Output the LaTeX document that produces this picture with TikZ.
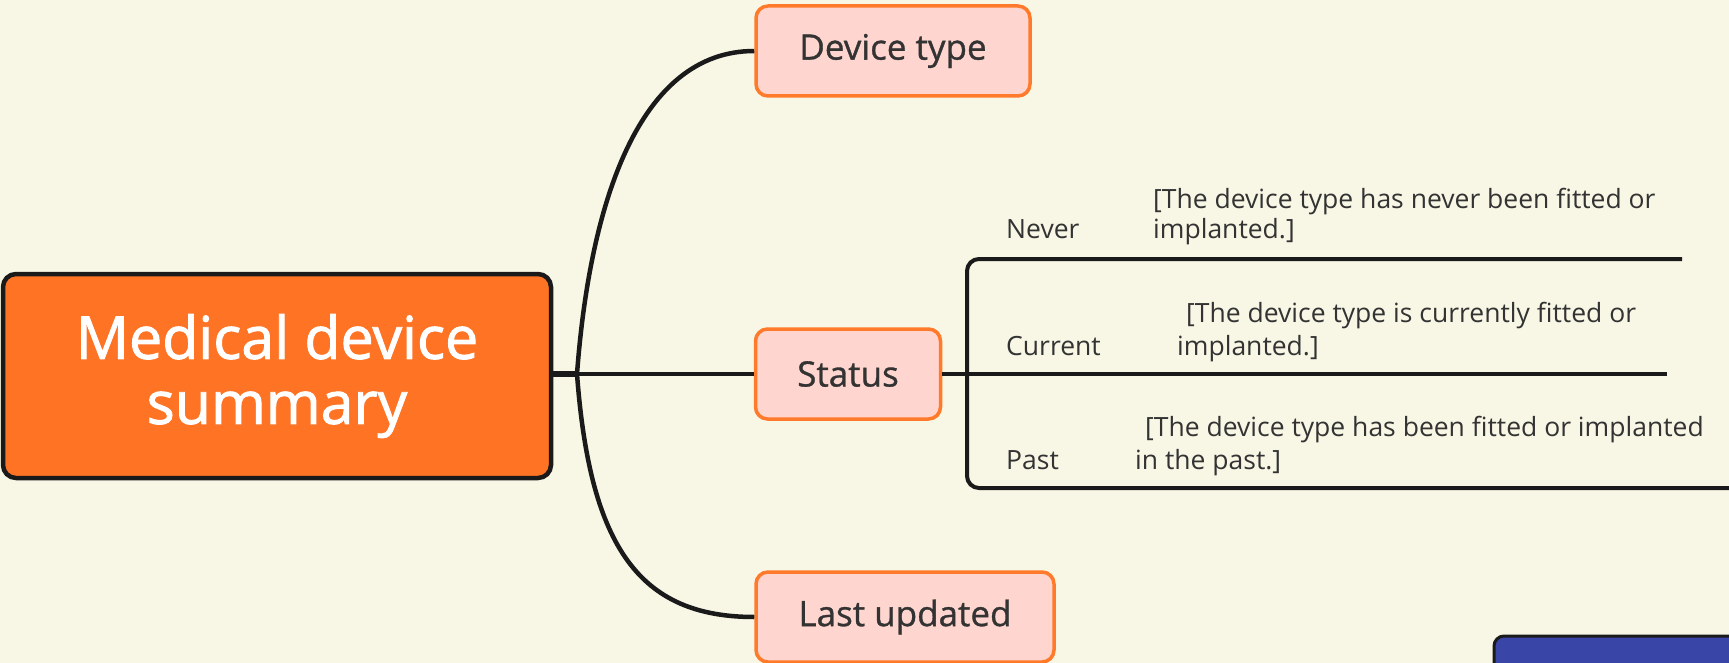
\documentclass[tikz,border=0pt]{standalone}
\usepackage{fontspec}
\setmainfont{Open Sans}
\newfontfamily\rootfont{Open Sans}[BoldFont={Open Sans}, BoldFeatures={FakeBold=1.6}]
\newfontfamily\topicfont{Open Sans}[BoldFont={Open Sans}, BoldFeatures={FakeBold=0.9}]
\usetikzlibrary{calc}
\definecolor{paper}{HTML}{F8F7E5}
\definecolor{rootfill}{HTML}{FF7324}
\definecolor{edgeblack}{HTML}{1A1A1A}
\definecolor{topicfill}{HTML}{FFD6CF}
\definecolor{topicline}{HTML}{FF7A2B}
\definecolor{topictext}{HTML}{333333}
\definecolor{notefill}{HTML}{3A45A8}
\tikzset{
  rootbox/.style={draw=edgeblack, line width=4.5pt, fill=rootfill, rounded corners=13pt,
    text=white, align=center, inner sep=0pt,
    font=\rootfont\bfseries\fontsize{59}{65}\selectfont},
  topicbox/.style={draw=topicline, line width=3.5pt, fill=topicfill, rounded corners=12pt,
    text=topictext, inner sep=0pt, minimum height=90pt,
    font=\topicfont\bfseries\fontsize{35}{40}\selectfont},
  branch/.style={draw=edgeblack, line width=4.5pt},
  trunk/.style={draw=edgeblack, line width=6.5pt},
  leafline/.style={draw=edgeblack, line width=4pt},
  smalltext/.style={text=topictext, inner sep=0pt, anchor=base west,
    font=\fontsize{26.5}{30}\selectfont},
}
\begin{document}
\begin{tikzpicture}[x=1pt,y=-1pt]
\useasboundingbox (0,0) rectangle (1729,663);
\clip (0,0) rectangle (1729,663);
\fill[paper] (0,0) rectangle (1729,663);

% central topic
\node[rootbox, minimum width=548pt, minimum height=204pt] (root) at (277,376)
  {Medical device\\summary};

% main branches
\node[topicbox, minimum width=274pt] (devtype) at (893,51) {Device type};
\node[topicbox, minimum width=185pt] (status) at (848,374) {Status};
\node[topicbox, minimum width=298pt] (updated) at (905,617) {Last updated};

\coordinate (fork) at (577,374);
\draw[trunk] (root.east |- fork) -- (fork);
\draw[branch] (fork) -- (status.west);
\draw[branch] (fork) .. controls (590,200) and (640,51) .. (devtype.west);
\draw[branch] (fork) .. controls (590,548) and (640,617) .. (updated.west);

% status sub-branches
\coordinate (neverEnd) at (1682,259);
\coordinate (currentEnd) at (1667,375);
\coordinate (pastEnd) at (1729,488);
\draw[leafline] (status.east) -- (currentEnd |- status.east);
\draw[leafline, rounded corners=12pt] (neverEnd) -- (967,259) -- (967,488) -- (pastEnd);

\node[smalltext] (never) at (1006,238) {Never};
\node[smalltext] (neverA) at (1153,209) {[The device type has never been fitted or};
\node[smalltext] (neverB) at (1153,239) {implanted.]};

\node[smalltext] (current) at (1006,355) {Current};
\node[smalltext] (currentA) at (1186,322) {[The device type is currently fitted or};
\node[smalltext] (currentB) at (1177,355) {implanted.]};

\node[smalltext] (past) at (1006,469) {Past};
\node[smalltext] (pastA) at (1145,436) {[The device type has been fitted or implanted};
\node[smalltext] (pastB) at (1135,469) {in the past.]};

% note box at the lower edge
\draw[edgeblack, line width=3pt, fill=notefill, rounded corners=10pt] (1494,636) rectangle (1760,720);
\end{tikzpicture}
\end{document}
